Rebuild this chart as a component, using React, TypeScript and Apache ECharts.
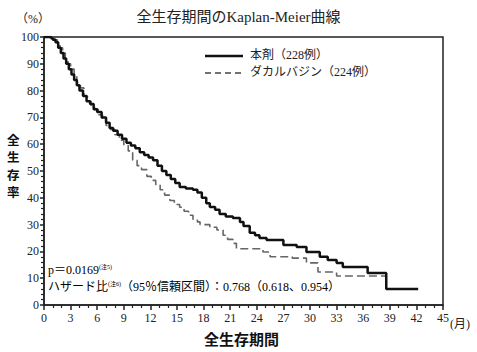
import React, { useEffect, useRef } from "react";
import * as echarts from "echarts";

const FONT = "'Liberation Serif', 'Noto Sans CJK JP', serif";
const BOLD_FONT = "'Noto Sans CJK JP', sans-serif";

const title = "全生存期間のKaplan-Meier曲線";
const seriesNames = ["本剤（228例）", "ダカルバジン（224例）"];
const xTicks = [0, 45, 3];
const yTicks = [0, 100, 10];
const yAxisTitleChars = ["全", "生", "存", "率"];

// 本剤: [month, survival %]
const drugTimes = [0, 0.5, 0.8, 1.0, 1.3, 1.6, 1.9, 2.2, 2.5, 2.8, 3.1, 3.4, 3.7, 4.0, 4.4, 4.8, 5.2, 5.6, 6.0, 6.5, 7.0, 7.4, 7.8, 8.3, 8.8, 9.3, 9.8, 10.3, 10.8, 11.3, 11.8, 12.3, 12.8, 13.3, 13.8, 14.3, 14.8, 15.3, 16.0, 16.8, 17.3, 17.8, 18.3, 18.7, 19.3, 19.8, 20.5, 21.3, 22.1, 22.5, 23.2, 23.8, 24.3, 25.1, 27.0, 27.4, 28.5, 29.6, 31.1, 32.0, 33.0, 33.7, 36.5, 38.6, 42.2];
const drugSurv = [100, 100, 99.5, 99, 98, 96, 94, 92, 90, 88, 86, 84, 82, 80, 78, 76, 75, 73, 72, 70, 68, 66, 65, 63.5, 62, 60.5, 59.5, 58.5, 57, 56, 55, 54, 52, 50, 48.5, 47, 45.5, 44, 43.5, 43, 42, 40, 38, 36.6, 35.5, 34, 33, 32.5, 31, 29.5, 27, 26, 25, 24.3, 22.4, 22.4, 21.6, 19.8, 18, 16.8, 15.7, 14.2, 11.9, 6, 6];

// ダカルバジン
const dtcTimes = [0, 1.0, 1.2, 1.5, 1.8, 2.1, 2.4, 2.7, 3.0, 3.4, 3.7, 4.1, 4.5, 4.9, 5.3, 5.7, 6.1, 6.6, 7.0, 7.5, 8.0, 8.5, 9.0, 9.5, 10.0, 10.5, 11.0, 11.6, 12.1, 12.6, 13.1, 13.6, 14.2, 14.7, 15.3, 15.8, 16.3, 16.8, 17.3, 17.6, 18.7, 19.5, 20.2, 20.7, 21.3, 21.7, 23.2, 24.7, 25.5, 28.0, 29.6, 30.9, 33.0, 38.6];
const dtcSurv = [100, 100, 99, 97.5, 96, 94, 92, 90, 88, 86, 83, 81, 78, 76, 74.5, 73, 71, 69, 67, 65.5, 63.5, 61.5, 59.5, 57.5, 54, 52, 50.5, 48, 46.5, 45, 43, 41, 39, 37.5, 36.5, 35, 33.5, 32, 31, 30, 29, 28, 26, 24.5, 23, 21, 21, 19.8, 18, 17.5, 15.7, 12.3, 10.8, 10.8];

const pText = "p＝0.0169";
const pNote = "(注5)";
const hrLabel = "ハザード比";
const hrNote = "(注6)";
const hrText = "（95％信頼区間）：0.768（0.618、0.954）";

export default function App() {
  const ref = useRef<HTMLDivElement>(null);
  useEffect(() => {
    if (!ref.current) return;
    const chart = echarts.init(ref.current, null, { renderer: "svg" });
    const zip = (t: number[], s: number[]) => t.map((v, i) => [v, s[i]]);
    const solidColor = "#111";
    const dashColor = "#666";
    chart.setOption({
      animation: false,
      backgroundColor: "#fff",
      title: {
        text: title,
        left: "center",
        top: 4,
        textStyle: { fontFamily: FONT, fontSize: 15, fontWeight: "normal", color: "#222" },
      },
      grid: {
        left: 44,
        right: 34,
        top: 37,
        bottom: 47,
        show: true,
        borderColor: "#222",
        borderWidth: 1.5,
      },
      xAxis: {
        type: "value",
        min: xTicks[0],
        max: xTicks[1],
        interval: xTicks[2],
        axisLine: { show: true, onZero: false, lineStyle: { color: "#222", width: 1.5 } },
        axisTick: { show: true, length: 5, lineStyle: { color: "#222", width: 1.5 } },
        minorTick: { show: true, splitNumber: 3, length: 3, lineStyle: { color: "#222", width: 1.2 } },
        splitLine: { show: false },
        axisLabel: { fontFamily: FONT, fontSize: 12, color: "#222", margin: 7 },
      },
      yAxis: {
        type: "value",
        min: yTicks[0],
        max: yTicks[1],
        interval: yTicks[2],
        axisLine: { show: true, lineStyle: { color: "#222", width: 1.5 } },
        axisTick: { show: true, length: 4, lineStyle: { color: "#222", width: 1.5 } },
        minorTick: { show: true, splitNumber: 5, length: 3, lineStyle: { color: "#222", width: 1.2 } },
        splitLine: { show: false },
        axisLabel: { fontFamily: FONT, fontSize: 12, color: "#222", margin: 5 },
      },
      series: [
        {
          name: seriesNames[0],
          type: "line",
          step: "end",
          symbol: "none",
          data: zip(drugTimes, drugSurv),
          lineStyle: { color: solidColor, width: 2.5 },
          itemStyle: { color: solidColor },
          z: 3,
        },
        {
          name: seriesNames[1],
          type: "line",
          step: "end",
          symbol: "none",
          data: zip(dtcTimes, dtcSurv),
          lineStyle: { color: dashColor, width: 1.6, type: [8, 4] },
          itemStyle: { color: dashColor },
          z: 2,
        },
      ],
      graphic: [
        // legend
        {
          type: "line",
          shape: { x1: 205, y1: 56, x2: 243, y2: 56 },
          style: { stroke: solidColor, lineWidth: 2.5 },
        },
        {
          type: "text",
          left: 250,
          top: 49,
          style: { text: seriesNames[0], fontFamily: FONT, fontSize: 12, fill: "#222" },
        },
        {
          type: "line",
          shape: { x1: 205, y1: 73, x2: 243, y2: 73 },
          style: { stroke: "#444", lineWidth: 1.3, lineDash: [6, 4] },
        },
        {
          type: "text",
          left: 250,
          top: 66,
          style: { text: seriesNames[1], fontFamily: FONT, fontSize: 12, fill: "#222" },
        },
        {
          type: "text",
          left: 16,
          top: 13,
          style: { text: "（%）", fontFamily: FONT, fontSize: 12, fill: "#222" },
        },
        ...yAxisTitleChars.map((ch, i) => ({
          type: "text",
          left: 7,
          top: 133 + i * 17.5,
          style: {
            text: ch,
            fontFamily: BOLD_FONT,
            fontSize: 12.5,
            fontWeight: "bold",
            fill: "#111",
          },
        })),
        {
          type: "text",
          left: 204,
          top: 331,
          style: {
            text: "全生存期間",
            fontFamily: BOLD_FONT,
            fontSize: 15,
            fontWeight: "bold",
            fill: "#111",
          },
        },
        {
          type: "text",
          left: 450,
          top: 318,
          style: { text: "(月)", fontFamily: FONT, fontSize: 12, fill: "#222" },
        },
        {
          type: "text",
          left: 48,
          top: 264,
          style: {
            text: `{a|${pText}}{s|${pNote}}`,
            rich: {
              a: { fontFamily: FONT, fontSize: 12, color: "#222", verticalAlign: "bottom" },
              s: { fontFamily: FONT, fontSize: 6, color: "#222", verticalAlign: "top" },
            },
          },
        },
        {
          type: "text",
          left: 48,
          top: 281,
          style: {
            text: `{a|${hrLabel}}{s|${hrNote}}{a|${hrText}}`,
            rich: {
              a: { fontFamily: FONT, fontSize: 12, color: "#222", verticalAlign: "bottom" },
              s: { fontFamily: FONT, fontSize: 6, color: "#222", verticalAlign: "top" },
            },
          },
        },
      ],
    });
    return () => chart.dispose();
  }, []);
  return (
    <div
      ref={ref}
      style={{ position: "absolute", left: 0, top: 0, width: 477, height: 352 }}
    />
  );
}
